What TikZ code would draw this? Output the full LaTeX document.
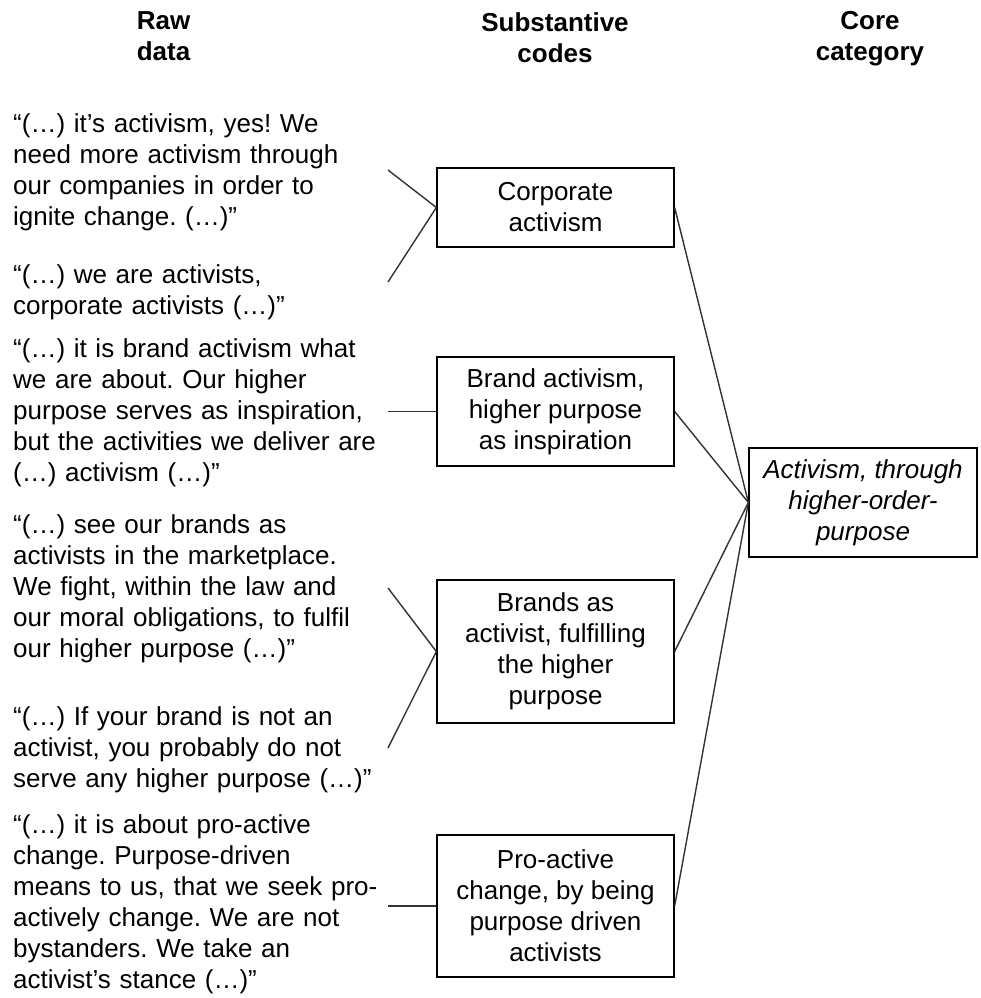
\documentclass[tikz,border=0pt]{standalone}
\usepackage{fontspec}
\setmainfont{Liberation Sans}
\frenchspacing
\begin{document}
\begin{tikzpicture}[x=1pt,y=-1pt,
  every node/.style={font=\fontsize{26}{31}\selectfont, inner sep=0pt},
  head/.style={font=\fontsize{26}{31}\selectfont\bfseries, align=center, anchor=base},
  quote/.style={anchor=base west, text width=385pt, align=left},
  code/.style={draw=black, line width=1.3pt, minimum width=237pt, align=center},
  link/.style={draw=black!80, line width=1.4pt}]
  % canvas
  \path[use as bounding box, fill=white] (0,0) rectangle (980,998);

  % column headings (anchored at the baseline of their second line)
  \node[head] (hraw)  at (163.5,60) {Raw\\data};
  \node[head] (hsub)  at (555,63)   {Substantive\\codes};
  \node[head] (hcore) at (870,60)   {Core\\category};

  % raw data quotes
  \node[quote] (q1) at (13,132) {“(…) it’s activism, yes! We\\need more activism through\\our companies in order to\\ignite change. (…)”};
  \node[quote] (q2) at (13,283) {“(…) we are activists,\\corporate activists (…)”};
  \node[quote] (q3) at (13,357) {“(…) it is brand activism what\\we are about. Our higher\\purpose serves as inspiration,\\but the activities we deliver are\\(…) activism (…)”};
  \node[quote] (q4) at (13,533) {“(…) see our brands as\\activists in the marketplace.\\We fight, within the law and\\our moral obligations, to fulfil\\our higher purpose (…)”};
  \node[quote] (q5) at (13,725) {“(…) If your brand is not an\\activist, you probably do not\\serve any higher purpose (…)”};
  \node[quote] (q6) at (13,833) {“(…) it is about pro-active\\change. Purpose-driven\\means to us, that we seek pro-\\actively change. We are not\\bystanders. We take an\\activist’s stance (…)”};

  % substantive codes
  \node[code, minimum height=79pt]  (c1) at (555.5,207.5) {Corporate\\activism};
  \node[code, minimum height=109pt] (c2) at (555.5,411.5) {Brand activism,\\higher purpose\\as inspiration};
  \node[code, minimum height=143pt] (c3) at (555.5,651.5) {Brands as\\activist, fulfilling\\the higher\\purpose};
  \node[code, minimum height=142pt] (c4) at (555.5,906)   {Pro-active\\change, by being\\purpose driven\\activists};

  % core category
  \node[code, minimum width=228pt, minimum height=109pt, font=\fontsize{26}{31}\selectfont\itshape] (core) at (863,502.5) {Activism, through\\higher-order-\\purpose};

  % free ends of the quote connectors
  \coordinate (e1a) at (388,170);
  \coordinate (e1b) at (388,282);
  \coordinate (e2)  at (388,411.5);
  \coordinate (e3a) at (388,588);
  \coordinate (e3b) at (388,748);
  \coordinate (e4)  at (388,906);

  % quotes to codes
  \draw[link] (e1a) -- (c1.west);
  \draw[link] (e1b) -- (c1.west);
  \draw[link] (e2)  -- (c2.west);
  \draw[link] (e3a) -- (c3.west);
  \draw[link] (e3b) -- (c3.west);
  \draw[link] (e4)  -- (c4.west);

  % codes to core category
  \draw[link] (c1.east) -- (core.west);
  \draw[link] (c2.east) -- (core.west);
  \draw[link] (c3.east) -- (core.west);
  \draw[link] (c4.east) -- (core.west);
\end{tikzpicture}
\end{document}
